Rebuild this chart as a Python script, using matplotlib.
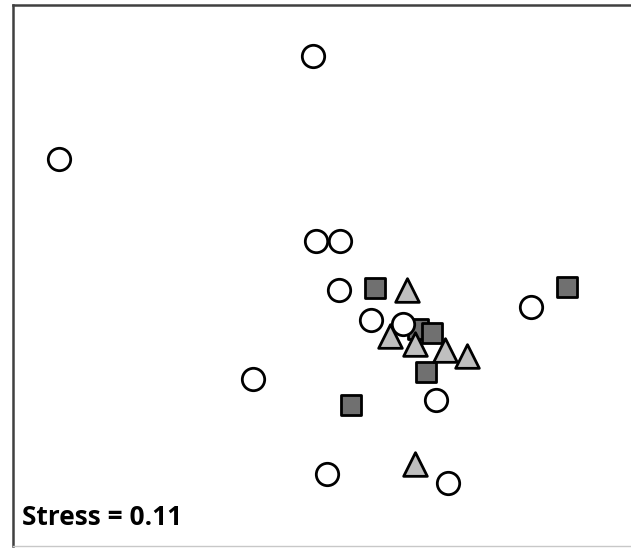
import matplotlib
matplotlib.use("Agg")
import matplotlib.pyplot as plt

# NMDS coordinates by group
circle_x = [-0.035, -1.305, -0.02, 0.10, 0.095, 1.055, 0.255, 0.415, -0.335, 0.58, 0.035, 0.64]
circle_y = [1.22, 0.705, 0.295, 0.295, 0.045, -0.04, -0.105, -0.125, -0.40, -0.505, -0.875, -0.92]
square_x = [0.275, 1.235, 0.49, 0.56, 0.53, 0.155]
square_y = [0.055, 0.06, -0.15, -0.17, -0.365, -0.53]
tri_x = [0.435, 0.35, 0.475, 0.625, 0.735, 0.475]
tri_y = [0.045, -0.185, -0.225, -0.255, -0.285, -0.825]
stress_label = "Stress = 0.11"

fig = plt.figure(figsize=(6.31, 5.48), dpi=100)
ax = fig.add_axes([13/631, 2/548, 1 - 13/631 + 0.01, 1 - 7/548])

ax.scatter(square_x[:1] + square_x[2:3], square_y[:1] + square_y[2:3], marker='s', s=220,
           facecolor='#707070', edgecolor='black', linewidth=2.0, zorder=2)
ax.scatter(circle_x, circle_y, marker='o', s=260, facecolor='white',
           edgecolor='black', linewidth=2.0, zorder=3)
ax.scatter(square_x[1:2] + square_x[3:], square_y[1:2] + square_y[3:], marker='s', s=220,
           facecolor='#707070', edgecolor='black', linewidth=2.0, zorder=4)
ax.scatter(tri_x, tri_y, marker='^', s=290, facecolor='#bfbfbf',
           edgecolor='black', linewidth=2.0, zorder=5)

ax.set_xlim(-1.535, 1.555 + 0.01 * 631 / 200)
ax.set_ylim(-1.23 - 0.005, 1.475)
ax.set_xticks([])
ax.set_yticks([])
for side in ['top', 'left']:
    ax.spines[side].set_color('#404040')
    ax.spines[side].set_linewidth(1.8)
ax.spines['bottom'].set_color('#c8c8c8')
ax.spines['bottom'].set_linewidth(1.0)
ax.spines['right'].set_visible(False)

ax.text(0.015, 0.027, stress_label, transform=ax.transAxes,
        fontsize=19, fontweight='bold', family='Open Sans', ha='left', va='bottom')

fig.savefig("out.png", dpi=100)
